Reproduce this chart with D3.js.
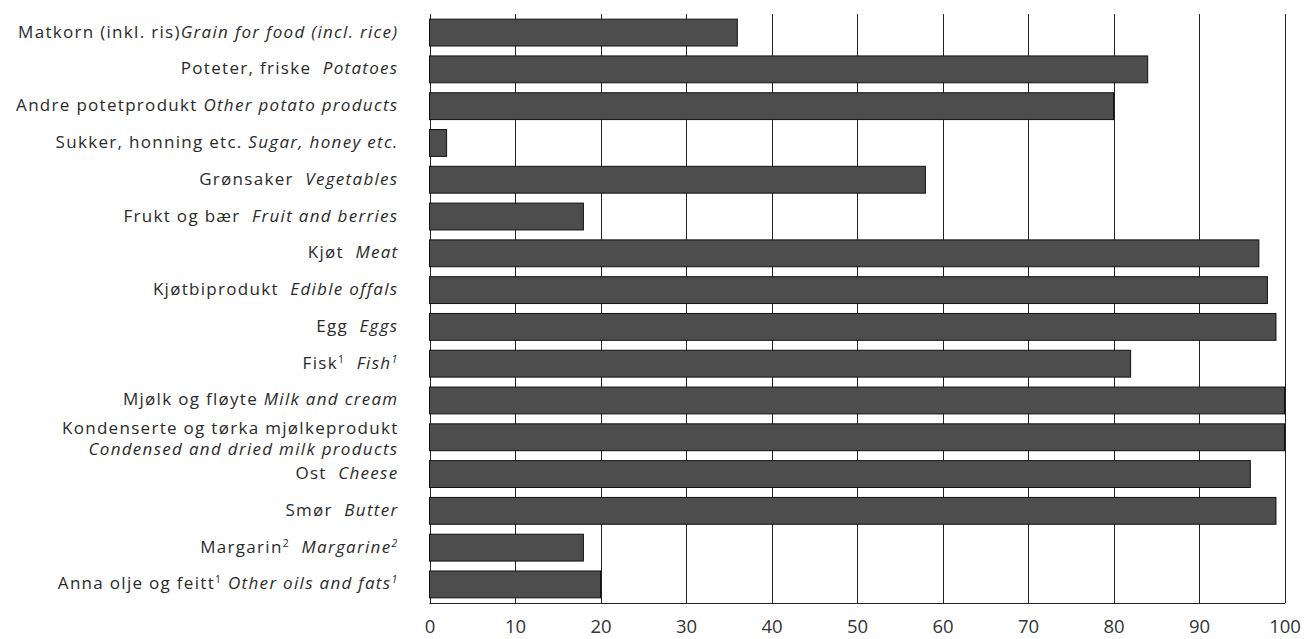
<!DOCTYPE html>
<html><head><meta charset="utf-8">
<script src="https://cdn.jsdelivr.net/npm/d3@7"></script>
<style>body{margin:0;background:#fff}svg{display:block}text{font-family:"Open Sans","Noto Sans",sans-serif}</style>
</head><body><svg id="c" width="1304" height="639"></svg>
<script>
// Norwegian label part, English (italic) label part, superscripts
const labelsNo = ["Matkorn (inkl. ris)","Poteter, friske","Andre potetprodukt","Sukker, honning etc.","Grønsaker","Frukt og bær","Kjøt","Kjøtbiprodukt","Egg","Fisk","Mjølk og fløyte","Kondenserte og tørka mjølkeprodukt","Ost","Smør","Margarin","Anna olje og feitt"];
const labelsEn = ["Grain for food (incl. rice)","Potatoes","Other potato products","Sugar, honey etc.","Vegetables","Fruit and berries","Meat","Edible offals","Eggs","Fish","Milk and cream","Condensed and dried milk products","Cheese","Butter","Margarine","Other oils and fats"];
const noteNo = ["","","","","","","","","","1","","","","","2","1"];
const noteEn = ["","","","","","","","","","1","","","","","2","1"];
const sepNo = ["","  "," "," ","  ","  ","  ","  ","  ","  "," ","","  ","  ","  "," "];
const values = [36,84,80,2,58,18,97,98,99,82,100,100,96,99,18,20];
const ticks = [0,10,20,30,40,50,60,70,80,90,100];

const svg = d3.select("#c");
const L = 429.5, R = 1284.5, T = 14, B = 603;
const x = d3.scaleLinear().domain([0,100]).range([L,R]);
const y = d3.scaleBand().domain(d3.range(values.length)).range([T,B]).paddingInner(0.27).paddingOuter(0.14);

// grid lines
svg.append("g").selectAll("line").data(ticks).join("line")
  .attr("x1",d=>Math.round(x(d))+0.5).attr("x2",d=>Math.round(x(d))+0.5)
  .attr("y1",T).attr("y2",B).attr("stroke","#222").attr("stroke-width",1);

// bars
svg.append("g").selectAll("rect").data(values).join("rect")
  .attr("x",x(0)).attr("y",(d,i)=>y(i)).attr("width",d=>x(d)-x(0)).attr("height",y.bandwidth())
  .attr("fill","#4d4d4d").attr("stroke","#111").attr("stroke-width",1);

// bottom axis line
svg.append("line").attr("x1",L).attr("x2",R+0.5).attr("y1",B+0.5).attr("y2",B+0.5).attr("stroke","#222");

// x tick labels
const xa = d3.axisBottom(x).tickValues(ticks).tickSize(0).tickPadding(0).tickFormat(d3.format("d"));
const gx = svg.append("g").attr("transform",`translate(0,${633})`).call(xa);
gx.select(".domain").remove();
gx.selectAll("text").attr("dy",0).attr("font-size",18.5).attr("fill","#333").attr("font-family","'Open Sans',sans-serif");

// category labels
const lx = 398.5;
const g = svg.append("g").attr("font-size",17).attr("fill","#2a2a2a").attr("letter-spacing",1.3);
values.forEach((v,i)=>{
  const cy = y(i)+y.bandwidth()/2;
  if (i===11){
    g.append("text").attr("x",lx).attr("y",cy-3).attr("text-anchor","end").text(labelsNo[i]);
    g.append("text").attr("x",lx).attr("y",cy+18).attr("text-anchor","end").attr("font-style","italic").text(labelsEn[i]);
    return;
  }
  const t = g.append("text").attr("x",lx).attr("y",cy+5).attr("text-anchor","end").attr("xml:space","preserve");
  t.append("tspan").text(labelsNo[i]);
  if (noteNo[i]) t.append("tspan").attr("font-size",10.5).attr("dy",-6).text(noteNo[i]);
  t.append("tspan").attr("dy",noteNo[i]?6:0).text(sepNo[i]);
  t.append("tspan").attr("font-style","italic").text(labelsEn[i]);
  if (noteEn[i]) t.append("tspan").attr("font-size",10.5).attr("font-style","italic").attr("dy",-6).text(noteEn[i]);
});
</script></body></html>
